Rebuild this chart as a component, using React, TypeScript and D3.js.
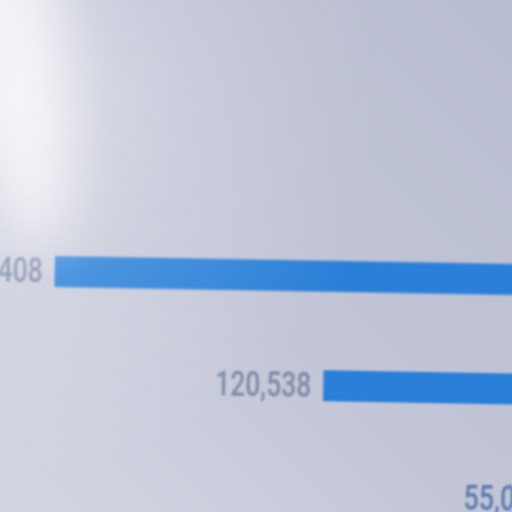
import React from "react";
import * as d3 from "d3";

const stages = ["Stage 1", "Stage 2", "Stage 3"];
const values = [195408, 120538, 55071];

const W = 512;
const H = 512;

export default function App() {
  const cx = 761;
  const maxWidth = 1412;
  const barH = 31;
  const w = d3.scaleLinear().domain([0, d3.max(values) as number]).range([0, maxWidth]);
  const y = d3.scalePoint<string>().domain(stages).range([275, 494]);
  const fmt = d3.format(",");
  const charW = 13.7;

  return (
    <svg
      width={W}
      height={H}
      viewBox={`0 0 ${W} ${H}`}
      style={{ position: "absolute", left: 0, top: 0, display: "block" }}
    >
      <defs>
        <linearGradient id="bg" x1="1" y1="0" x2="0" y2="1">
          <stop offset="0" stopColor="#b8bcd1" />
          <stop offset="0.55" stopColor="#c3c6d7" />
          <stop offset="1" stopColor="#d3d6e1" />
        </linearGradient>
        <radialGradient id="soft" cx="0" cy="0.2" r="0.75">
          <stop offset="0" stopColor="#ffffff" stopOpacity="0.45" />
          <stop offset="0.5" stopColor="#ffffff" stopOpacity="0.15" />
          <stop offset="1" stopColor="#ffffff" stopOpacity="0" />
        </radialGradient>
        <filter id="blurBig" x="-1" y="-1" width="3" height="3">
          <feGaussianBlur stdDeviation="26" />
        </filter>
        <filter id="blurSmall">
          <feGaussianBlur stdDeviation="0.8" />
        </filter>
      </defs>
      <rect x={0} y={0} width={W} height={H} fill="url(#bg)" />
      <g filter="url(#blurSmall)" transform="rotate(1 256 256)">
        {stages.map((s, i) => {
          const bw = w(values[i]);
          const left = cx - bw / 2;
          const yc = y(s) as number;
          const label = fmt(values[i]);
          return (
            <g key={s}>
              <rect x={left} y={yc - barH / 2} width={bw} height={barH} fill="#2b80d8" />
              <text
                x={left - 12}
                y={yc}
                textAnchor="end"
                dominantBaseline="central"
                fontFamily="Roboto, 'DejaVu Sans', sans-serif"
                fontWeight={500}
                fontSize={35}
                textLength={label.length * charW}
                lengthAdjust="spacingAndGlyphs"
                fill={i === 2 ? "#5b78ad" : "#7d89a7"}
              >
                {label}
              </text>
            </g>
          );
        })}
      </g>
      <rect x={0} y={0} width={W} height={H} fill="url(#soft)" />
      <ellipse
        cx={10}
        cy={20}
        rx={50}
        ry={230}
        fill="#ffffff"
        opacity={0.7}
        filter="url(#blurBig)"
        transform="rotate(-8 10 20)"
      />
    </svg>
  );
}
